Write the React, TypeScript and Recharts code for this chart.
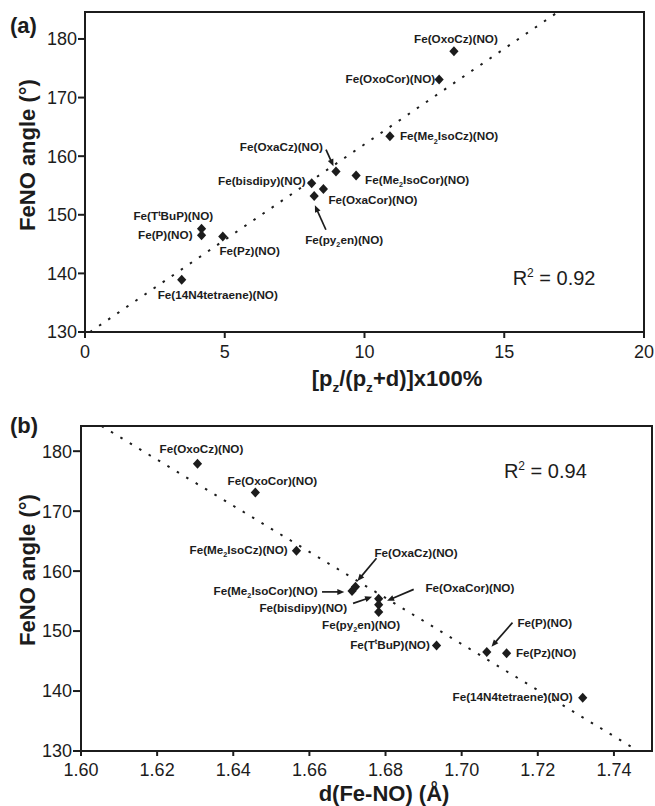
import React from 'react';
import {
  ScatterChart,
  Scatter,
  XAxis,
  YAxis,
  ReferenceLine,
  ReferenceArea,
  ReferenceDot,
} from 'recharts';

const FONT = '"Liberation Sans", Arial, Helvetica, sans-serif';
const INK = '#1c1c1c';

// ---------- data ----------
const complexIds = ['OxoCz', 'OxoCor', 'Me2IsoCz', 'Me2IsoCor', 'OxaCz', 'bisdipy', 'OxaCor', 'py2en', 'TtBuP', 'P', 'Pz', '14N4'];
const complexLabels = [
  'Fe(OxoCz)(NO)',
  'Fe(OxoCor)(NO)',
  'Fe(Me{_2}IsoCz)(NO)',
  'Fe(Me{_2}IsoCor)(NO)',
  'Fe(OxaCz)(NO)',
  'Fe(bisdipy)(NO)',
  'Fe(OxaCor)(NO)',
  'Fe(py{_2}en)(NO)',
  'Fe(T{^t}BuP)(NO)',
  'Fe(P)(NO)',
  'Fe(Pz)(NO)',
  'Fe(14N4tetraene)(NO)',
];
const feNoAngle = [177.9, 173.1, 163.4, 156.7, 157.4, 155.4, 154.4, 153.2, 147.6, 146.5, 146.3, 138.9];
const pzCharacter = [13.2, 12.67, 10.91, 9.7, 8.98, 8.11, 8.53, 8.2, 4.17, 4.17, 4.93, 3.46];
const feNoDistance = [1.6306, 1.6458, 1.6566, 1.6712, 1.6721, 1.6782, 1.6782, 1.6782, 1.6934, 1.7066, 1.7118, 1.7318];

const xTicksA = [0, 5, 10, 15, 20];
const xTicksB = [1.6, 1.62, 1.64, 1.66, 1.68, 1.7, 1.72, 1.74];
const yTicks = [130, 140, 150, 160, 170, 180];
const xDomainA = [0, 20];
const xDomainB = [1.6, 1.75];
const yDomainA = [130, 184.6];
const yDomainB = [130, 184.2];

const fitA = [{ x: 0.18, y: 130 }, { x: 16.92, y: 184.6 }];
const fitB = [{ x: 1.6054, y: 184.2 }, { x: 1.7464, y: 130 }];
const r2A = { text: '0.92', x: 15.3, y: 138.0 };
const r2B = { text: '0.94', x: 1.7111, y: 175.45 };

const dataA = complexIds.map((id, i) => ({ id, label: complexLabels[i], x: pzCharacter[i], y: feNoAngle[i] }));
const dataB = complexIds.map((id, i) => ({ id, label: complexLabels[i], x: feNoDistance[i], y: feNoAngle[i] }));

// ---------- label layout (pixel offsets from point) ----------
type Lay = { dx: number; dy: number; anchor: 'start' | 'middle' | 'end'; arrow?: number[] };
const layoutA: Record<string, Lay> = {
  OxoCz: { dx: 2, dy: -8, anchor: 'middle' },
  OxoCor: { dx: -4, dy: 4, anchor: 'end' },
  Me2IsoCz: { dx: 10, dy: 4, anchor: 'start' },
  Me2IsoCor: { dx: 9, dy: 8, anchor: 'start' },
  OxaCz: { dx: -13, dy: -20.7, anchor: 'end', arrow: [-10, -21.7, -2.5, -5.2] },
  bisdipy: { dx: -6, dy: 2, anchor: 'end' },
  OxaCor: { dx: 5, dy: 15, anchor: 'start' },
  py2en: { dx: -9, dy: 48, anchor: 'start', arrow: [11.7, 33.7, 0.7, 9.2] },
  TtBuP: { dx: 11.6, dy: -8.4, anchor: 'end' },
  P: { dx: -9, dy: 3.3, anchor: 'end' },
  Pz: { dx: -3.4, dy: 18.3, anchor: 'start' },
  '14N4': { dx: -24, dy: 19.3, anchor: 'start' },
};
const layoutB: Record<string, Lay> = {
  OxoCz: { dx: 4, dy: -10.7, anchor: 'middle' },
  OxoCor: { dx: 17, dy: -8, anchor: 'middle' },
  Me2IsoCz: { dx: -8.7, dy: 3.3, anchor: 'end' },
  OxaCz: { dx: 19, dy: -30, anchor: 'start', arrow: [21, -28.4, 2, -5.7] },
  Me2IsoCor: { dx: -34.4, dy: 4.3, anchor: 'end', arrow: [-30, 1, -7.7, 1] },
  bisdipy: { dx: -31.6, dy: 13, anchor: 'end', arrow: [-25.6, 4.7, -6.6, -1.9] },
  OxaCor: { dx: 46.7, dy: -13, anchor: 'start', arrow: [35, -15.3, 8.4, -3.9] },
  py2en: { dx: -17.6, dy: 17.3, anchor: 'middle' },
  TtBuP: { dx: -6.7, dy: 3.3, anchor: 'end' },
  P: { dx: 30.7, dy: -25.4, anchor: 'start', arrow: [25.7, -29.4, 4.7, -5.4] },
  Pz: { dx: 9.3, dy: 3.4, anchor: 'start' },
  '14N4': { dx: -10, dy: 3.4, anchor: 'end' },
};

// ---------- helpers ----------
function richSpans(label: string, fs: number) {
  const parts = label.split(/(\{[_^][^}]*\})/).filter((p) => p.length > 0);
  const out: any[] = [];
  let shift = 0;
  parts.forEach((p, i) => {
    const m = p.match(/^\{([_^])(.*)\}$/);
    if (m) {
      const d = m[1] === '_' ? fs * 0.28 : -fs * 0.4;
      out.push(
        <tspan key={i} dy={d - shift} fontSize={fs * 0.62}>
          {m[2]}
        </tspan>
      );
      shift = d;
    } else {
      out.push(
        <tspan key={i} dy={-shift} fontSize={fs}>
          {p}
        </tspan>
      );
      shift = 0;
    }
  });
  return out;
}

function Arrow({ x1, y1, x2, y2 }: { x1: number; y1: number; x2: number; y2: number }) {
  const a = Math.atan2(y2 - y1, x2 - x1);
  const hl = 7;
  const hw = 3;
  const bx = x2 - hl * Math.cos(a);
  const by = y2 - hl * Math.sin(a);
  const px = -Math.sin(a) * hw;
  const py = Math.cos(a) * hw;
  return (
    <g>
      <line x1={x1} y1={y1} x2={bx + Math.cos(a) * 2} y2={by + Math.sin(a) * 2} stroke={INK} strokeWidth={1.7} />
      <polygon points={`${x2},${y2} ${bx + px},${by + py} ${bx - px},${by - py}`} fill={INK} />
    </g>
  );
}

const makeShape = (layout: Record<string, Lay>) => (props: any) => {
  const { cx, cy, payload } = props;
  if (cx == null || cy == null) return <g />;
  const L = layout[payload.id];
  const fs = 11.7;
  return (
    <g>
      <polygon points={`${cx},${cy - 5} ${cx + 4.6},${cy} ${cx},${cy + 5} ${cx - 4.6},${cy}`} fill={INK} />
      {L.arrow && <Arrow x1={cx + L.arrow[0]} y1={cy + L.arrow[1]} x2={cx + L.arrow[2]} y2={cy + L.arrow[3]} />}
      <text x={cx + L.dx} y={cy + L.dy} textAnchor={L.anchor} fontSize={fs} fontWeight="bold" fill={INK} fontFamily={FONT}>
        {richSpans(payload.label, fs)}
      </text>
    </g>
  );
};

const shapeA = makeShape(layoutA);
const shapeB = makeShape(layoutB);

const r2Label = (val: string) => (props: any) => {
  const vb = props.viewBox || {};
  const x = vb.x ?? 0;
  const y = vb.y ?? 0;
  return (
    <text x={x} y={y} fontSize={20} fill={INK} fontFamily={FONT}>
      <tspan>R</tspan>
      <tspan dy={-8} fontSize={12}>2</tspan>
      <tspan dy={8}>{` = ${val}`}</tspan>
    </text>
  );
};

const yLabel = (letter: string, cy: number) => () => (
  <g>
    <text
      transform={`rotate(-90, 35, ${cy})`}
      x={35}
      y={cy}
      textAnchor="middle"
      fontSize={22}
      fontWeight="bold"
      fill={INK}
      fontFamily={FONT}
    >
      FeNO angle (°)
    </text>
    <text x={10} y={33} fontSize={22} fontWeight="bold" fill={INK} fontFamily={FONT}>
      {letter}
    </text>
  </g>
);

const xLabelA = () => (
  <text x={397} y={386} textAnchor="middle" fontSize={22} fontWeight="bold" fill={INK} fontFamily={FONT}>
    {richSpans('[p{_z}/(p{_z}+d)]x100%', 22)}
  </text>
);
const xLabelB = () => (
  <text x={384} y={401} textAnchor="middle" fontSize={22} fontWeight="bold" fill={INK} fontFamily={FONT}>
    d(Fe-NO) (Å)
  </text>
);

const tickStyle = { fontSize: 18, fill: INK, fontFamily: FONT };
const lineStyle = { stroke: INK, strokeWidth: 2 };

export default function App() {
  return (
    <div style={{ position: 'absolute', left: 0, top: 0, width: 655, height: 806, background: '#fff', fontFamily: FONT }}>
      <div style={{ position: 'absolute', left: 0, top: 0 }}>
        <ScatterChart width={655} height={400} margin={{ top: 12, right: 11, bottom: 8, left: 25 }}>
          <XAxis
            type="number"
            dataKey="x"
            domain={xDomainA}
            ticks={xTicksA}
            allowDataOverflow
            height={60}
            tickSize={6}
            tickMargin={7}
            tick={tickStyle}
            tickLine={lineStyle}
            axisLine={lineStyle}
            label={xLabelA}
          />
          <YAxis
            type="number"
            dataKey="y"
            domain={yDomainA}
            ticks={yTicks}
            allowDataOverflow
            width={60}
            tickSize={7}
            tickMargin={1}
            tick={tickStyle}
            tickLine={lineStyle}
            axisLine={lineStyle}
            label={yLabel('(a)', 155)}
          />
          <ReferenceArea
            x1={xDomainA[0]}
            x2={xDomainA[1]}
            y1={yDomainA[0]}
            y2={yDomainA[1]}
            fill="none"
            stroke={INK}
            strokeWidth={2}
            ifOverflow="visible"
          />
          <ReferenceLine
            segment={fitA}
            stroke={INK}
            strokeWidth={2}
            strokeDasharray="2.5 8.5"
            ifOverflow="visible"
          />
          <Scatter data={dataA} shape={shapeA} isAnimationActive={false} />
          <ReferenceDot x={r2A.x} y={r2A.y} r={0} fill="none" stroke="none" label={r2Label(r2A.text)} ifOverflow="visible" />
        </ScatterChart>
      </div>
      <div style={{ position: 'absolute', left: 0, top: 400 }}>
        <ScatterChart width={655} height={406} margin={{ top: 26, right: 3, bottom: 5, left: 21 }}>
          <XAxis
            type="number"
            dataKey="x"
            domain={xDomainB}
            ticks={xTicksB}
            allowDataOverflow
            height={50}
            tickSize={5}
            tickMargin={7}
            tick={tickStyle}
            tickLine={lineStyle}
            axisLine={lineStyle}
            tickFormatter={(v: number) => v.toFixed(2)}
            label={xLabelB}
          />
          <YAxis
            type="number"
            dataKey="y"
            domain={yDomainB}
            ticks={yTicks}
            allowDataOverflow
            width={60}
            tickSize={8}
            tickMargin={1}
            tick={tickStyle}
            tickLine={lineStyle}
            axisLine={lineStyle}
            label={yLabel('(b)', 170)}
          />
          <ReferenceArea
            x1={xDomainB[0]}
            x2={xDomainB[1]}
            y1={yDomainB[0]}
            y2={yDomainB[1]}
            fill="none"
            stroke={INK}
            strokeWidth={2}
            ifOverflow="visible"
          />
          <ReferenceLine
            segment={fitB}
            stroke={INK}
            strokeWidth={2}
            strokeDasharray="2.5 8.5"
            ifOverflow="visible"
          />
          <Scatter data={dataB} shape={shapeB} isAnimationActive={false} />
          <ReferenceDot x={r2B.x} y={r2B.y} r={0} fill="none" stroke="none" label={r2Label(r2B.text)} ifOverflow="visible" />
        </ScatterChart>
      </div>
    </div>
  );
}
